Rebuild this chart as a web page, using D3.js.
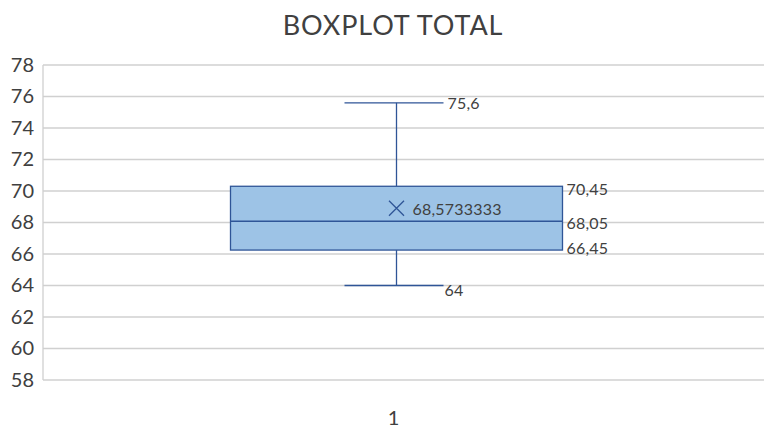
<!DOCTYPE html>
<html><head><meta charset="utf-8">
<script src="https://cdn.jsdelivr.net/npm/d3@7"></script>
<style>body{margin:0;background:#fff;}svg{display:block;font-family:Lato,"Noto Sans",sans-serif;}</style>
</head><body><svg id="c" width="764" height="428"></svg>
<script>
const title = "BOXPLOT TOTAL";
const categories = ["1"];
const whiskerMin = [64];
const q1 = [66.25];
const median = [68.08];
const q3 = [70.3];
const whiskerMax = [75.6];
const mean = [68.9];
const labelMin = ["64"];
const labelQ1 = ["66,45"];
const labelMedian = ["68,05"];
const labelQ3 = ["70,45"];
const labelMax = ["75,6"];
const labelMean = ["68,5733333"];
const yTicks = [58,60,62,64,66,68,70,72,74,76,78];

(function(){
const svg = d3.select("#c");
const W = 764, mLeft = 43, mTop = 65, mBottom = 380;
const y = d3.scaleLinear().domain([58,78]).range([mBottom, mTop]);
const x = d3.scaleBand().domain(categories).range([mLeft, 750]).paddingInner(0).paddingOuter(0.0);

svg.append("text").attr("x", 393).attr("y", 35).attr("text-anchor","middle")
  .attr("font-size", 27).attr("letter-spacing", 0.9).attr("fill","#404040").text(title);

svg.append("g").selectAll("line").data(yTicks).join("line")
  .attr("x1", mLeft).attr("x2", W).attr("y1", d=>y(d)).attr("y2", d=>y(d))
  .attr("stroke","#d0d0d0").attr("stroke-width",1.3);
svg.append("line").attr("x1",mLeft).attr("x2",mLeft).attr("y1",mTop).attr("y2",mBottom)
  .attr("stroke","#d0d0d0").attr("stroke-width",1.3);

const yAxis = d3.axisLeft(y).tickValues(yTicks).tickSize(0).tickPadding(9);
const ga = svg.append("g").attr("transform",`translate(${mLeft},0)`).call(yAxis);
ga.select(".domain").remove();
ga.selectAll("text").attr("font-size",20).attr("fill","#404040").attr("font-family","Lato,'Noto Sans',sans-serif");

const xAxis = d3.axisBottom(x).tickSize(0).tickPadding(0);
const gx = svg.append("g").attr("transform",`translate(0,411)`).call(xAxis);
gx.select(".domain").remove();
gx.selectAll("text").attr("font-size",20).attr("fill","#404040").attr("dx",-3).attr("font-family","Lato,'Noto Sans',sans-serif");

const blue = "#2f5597";
categories.forEach((c,i)=>{
  const cx = x(c) + x.bandwidth()/2;
  const bw = 332;
  svg.append("line").attr("x1",cx).attr("x2",cx).attr("y1",y(whiskerMax[i])).attr("y2",y(q3[i])).attr("stroke",blue).attr("stroke-width",1.3);
  svg.append("line").attr("x1",cx).attr("x2",cx).attr("y1",y(q1[i])).attr("y2",y(whiskerMin[i])).attr("stroke",blue).attr("stroke-width",1.3);
  svg.append("line").attr("x1",cx-52).attr("x2",cx+47).attr("y1",y(whiskerMax[i])).attr("y2",y(whiskerMax[i])).attr("stroke",blue).attr("stroke-width",1.3);
  svg.append("line").attr("x1",cx-52).attr("x2",cx+47).attr("y1",y(whiskerMin[i])).attr("y2",y(whiskerMin[i])).attr("stroke",blue).attr("stroke-width",1.3);
  svg.append("rect").attr("x",cx-bw/2).attr("y",y(q3[i])).attr("width",bw).attr("height",y(q1[i])-y(q3[i]))
    .attr("fill","#9dc3e6").attr("stroke",blue).attr("stroke-width",1.3);
  svg.append("line").attr("x1",cx-bw/2).attr("x2",cx+bw/2).attr("y1",y(median[i])).attr("y2",y(median[i])).attr("stroke",blue).attr("stroke-width",1.3);
  const my = y(mean[i]), s = 7.5;
  svg.append("path").attr("d",`M${cx-s},${my-s}L${cx+s},${my+s}M${cx-s},${my+s}L${cx+s},${my-s}`)
    .attr("stroke",blue).attr("stroke-width",1.3).attr("fill","none");
  const lab = (tx,ty,t)=>svg.append("text").attr("x",tx).attr("y",ty).attr("dy","0.35em")
    .attr("font-size",16).attr("letter-spacing",0.2).attr("fill","#404040").text(t);
  lab(cx+51, y(whiskerMax[i])+0.5, labelMax[i]);
  lab(cx+48, y(whiskerMin[i])+5, labelMin[i]);
  lab(cx+bw/2+4, y(q3[i])+3.5, labelQ3[i]);
  lab(cx+bw/2+4, y(median[i])+2, labelMedian[i]);
  lab(cx+bw/2+4, y(q1[i])-1.5, labelQ1[i]);
  lab(cx+16, my+1, labelMean[i]);
});
})();
</script></body></html>
